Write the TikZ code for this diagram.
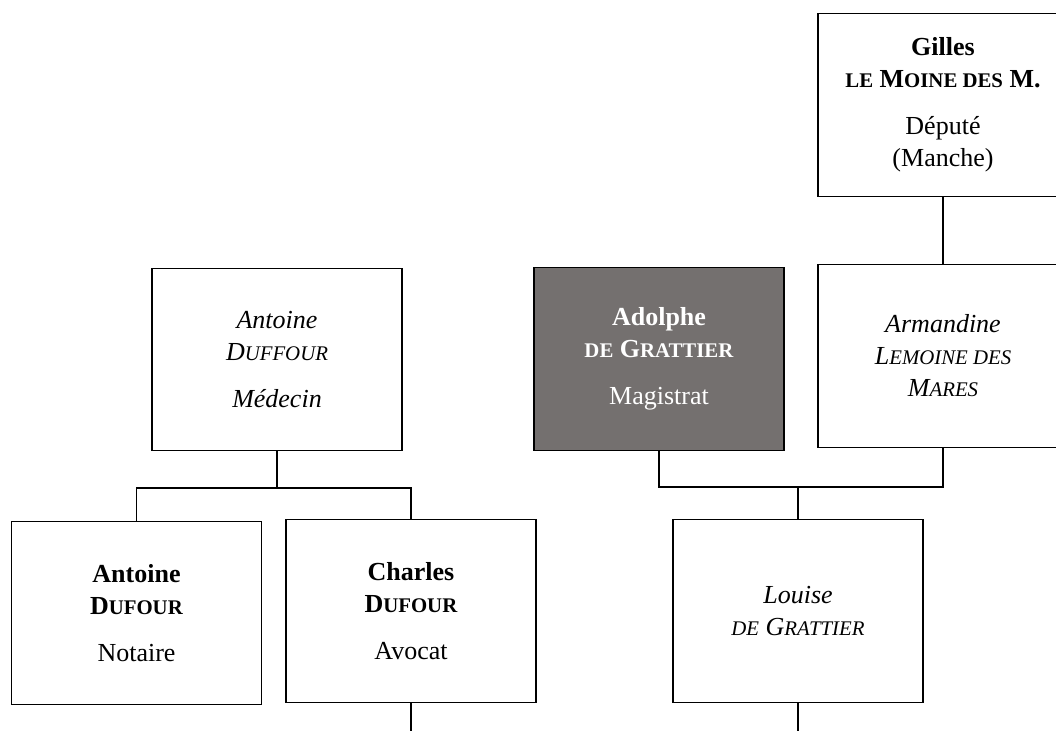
\documentclass[tikz,border=0pt]{standalone}
\usepackage{fontspec}
\setmainfont{Liberation Serif}
\usepackage{tikz}

\definecolor{slate}{RGB}{116,112,111}
\newcommand{\pcap}[1]{{\fontsize{15.6pt}{24pt}\selectfont #1}}

\begin{document}
\begin{tikzpicture}[x=0.75pt, y=-0.75pt,
    person/.style={draw, line width=0.8pt, minimum width=187.5pt, minimum height=137pt,
        align=center, inner sep=0pt, font=\fontsize{19.5pt}{24pt}\selectfont},
    link/.style={line width=0.8pt}]
    % Frame of the page
    \useasboundingbox (0,0) rectangle (1056,731);
    \clip (0,0) rectangle (1056,731);
    \coordinate (bar1) at (0,487);
    \coordinate (bar2) at (0,488);
    \coordinate (bottom) at (0,731);

    % Upper generation
    \node[person] (gilles) at (943,105) {\textbf{Gilles}\\ \textbf{\pcap{LE} M\pcap{OINE DES} M.}\\[11pt] Député\\ (Manche)};
    \node[person] (armandine) at (943,356) {\textit{Armandine}\\ \textit{L\pcap{EMOINE DES}}\\ \textit{M\pcap{ARES}}};
    \node[person, fill=slate, text=white] (adolphe) at (659,359) {\textbf{Adolphe}\\ \textbf{\pcap{DE} G\pcap{RATTIER}}\\[11pt] Magistrat};
    \node[person] (duffour) at (277,359.5) {\textit{Antoine}\\ \textit{D\pcap{UFFOUR}}\\[11pt] \textit{Médecin}};

    % Lower generation
    \node[person] (antoine) at (136.5,613) {\textbf{Antoine}\\ \textbf{D\pcap{UFOUR}}\\[11pt] Notaire};
    \node[person] (charles) at (411,611) {\textbf{Charles}\\ \textbf{D\pcap{UFOUR}}\\[11pt] Avocat};
    \node[person] (louise) at (798,611) {\textit{Louise}\\ \textit{\pcap{DE} G\pcap{RATTIER}}};

    % Links
    \draw[link] (gilles.south) -- (armandine.north);
    \draw[link] (adolphe.south) |- (bar1 -| armandine.south) -- (armandine.south);
    \draw[link] (louise.north) -- (louise.north |- bar1);
    \draw[link] (duffour.south) -- (duffour.south |- bar2);
    \draw[link] (antoine.north) |- (bar2 -| charles.north) -- (charles.north);
    \draw[link] (charles.south) -- (charles.south |- bottom);
    \draw[link] (louise.south) -- (louise.south |- bottom);
\end{tikzpicture}
\end{document}
